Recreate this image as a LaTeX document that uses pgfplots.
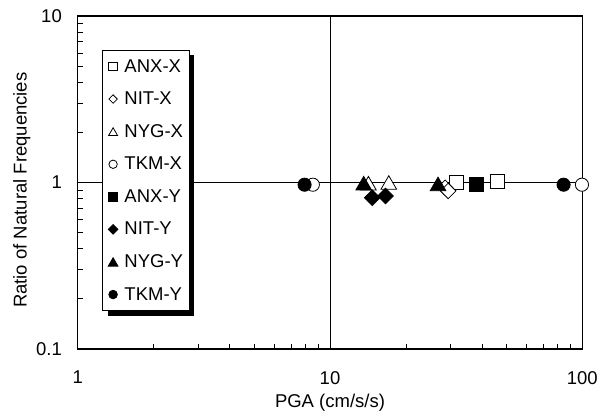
\documentclass[border=0pt]{standalone}
\usepackage{pgfplots}
\pgfplotsset{compat=1.18}
\usepackage{fontspec}
\setmainfont{Liberation Sans}
\usetikzlibrary{shadows}
\newcommand{\chf}{\fontsize{18.5bp}{22bp}\selectfont}
\begin{document}
\begin{tikzpicture}
\path[use as bounding box] (-77.7bp,-66bp) rectangle (530.3bp,349bp);
\begin{axis}[
  scale only axis, width=504.6bp, height=333bp,
  xmode=log, ymode=log,
  xmin=1, xmax=100, ymin=0.1, ymax=10,
  xtick={1,10,100}, xticklabels={1,10,100},
  ytick={0.1,1,10}, yticklabels={0.1,1,10},
  minor xtick={2,3,4,5,6,7,8,9,20,30,40,50,60,70,80,90},
  minor ytick={0.2,0.3,0.4,0.5,0.6,0.7,0.8,0.9,2,3,4,5,6,7,8,9},
  tick pos=left, tick align=inside,
  major tick length=7bp, minor tick length=5bp,
  every tick/.style={black, line width=0.8bp},
  grid=major, major grid style={black, line width=0.8bp},
  axis line style={line width=1.4bp},
  xticklabel style={font=\chf, inner sep=0pt, anchor=north, yshift=-22bp},
  yticklabel style={font=\chf, inner sep=0pt, anchor=east, xshift=-15.7bp},
  xlabel={PGA (cm/s/s)},
  ylabel={Ratio of Natural Frequencies},
  every axis x label/.style={at={([yshift=-44.5bp]rel axis cs:0.5,0)}, anchor=north, inner sep=0pt, font=\chf},
  every axis y label/.style={at={([xshift=-64.7bp]rel axis cs:0,0.477)}, rotate=90, anchor=north, inner sep=0pt, font=\chf},
  legend cell align=left,
  legend image code/.code={\path (0bp,0bp) (10bp,0bp); \draw[#1] plot coordinates {(5bp,0bp)};},
  legend style={at={([xshift=24.6bp,yshift=-34bp]rel axis cs:0,1)}, anchor=north west,
    draw=black, line width=0.8bp, fill=white, font=\chf,
    inner xsep=5bp, inner ysep=8bp, row sep=16.3bp, column sep=5bp,
    nodes={inner sep=1bp},
    drop shadow={shadow xshift=5bp, shadow yshift=-5bp, fill=black, opacity=1}},
]
% ANX-X
\addplot[only marks, mark=square*, mark size=7bp, mark options={fill=white, draw=black, line width=0.8bp},
  legend image post style={mark size=4.2bp}]
  coordinates {(31.6,1.0) (46.2,1.02)};
\addlegendentry{ANX-X}
% NIT-X
\addplot[only marks, mark=square*, mark size=5.5bp, mark options={rotate=45, fill=white, draw=black, line width=0.8bp},
  legend image post style={mark size=3.0bp}]
  coordinates {(28.6,0.93) (29.4,0.89)};
\addlegendentry{NIT-X}
% NYG-X
\addplot[only marks, mark=triangle*, mark size=9bp, mark options={yshift=-2.2bp, fill=white, draw=black, line width=0.8bp},
  legend image post style={mark size=5.2bp, mark options={yshift=-1.3bp, fill=white, draw=black, line width=0.8bp}}]
  coordinates {(14.2,0.99) (17.1,1.0)};
\addlegendentry{NYG-X}
% TKM-X
\addplot[only marks, mark=*, mark size=6.6bp, mark options={fill=white, draw=black, line width=0.8bp},
  legend image post style={mark size=4.2bp}]
  coordinates {(8.55,0.97) (99.7,0.97)};
\addlegendentry{TKM-X}
% ANX-Y
\addplot[only marks, mark=square*, mark size=7bp, mark options={fill=black, draw=black, line width=0.8bp},
  legend image post style={mark size=4.5bp}]
  coordinates {(38.0,0.98)};
\addlegendentry{ANX-Y}
% NIT-Y
\addplot[only marks, mark=square*, mark size=5.5bp, mark options={rotate=45, fill=black, draw=black, line width=0.8bp},
  legend image post style={mark size=3.4bp}]
  coordinates {(14.7,0.81) (16.6,0.83)};
\addlegendentry{NIT-Y}
% NYG-Y
\addplot[only marks, mark=triangle*, mark size=9bp, mark options={yshift=-2.2bp, fill=black, draw=black, line width=0.8bp},
  legend image post style={mark size=5.6bp, mark options={yshift=-1.4bp, fill=black, draw=black, line width=0.8bp}}]
  coordinates {(13.6,0.99) (26.8,0.98)};
\addlegendentry{NYG-Y}
% TKM-Y
\addplot[only marks, mark=*, mark size=6.6bp, mark options={fill=black, draw=black, line width=0.8bp},
  legend image post style={mark size=4.3bp}]
  coordinates {(7.93,0.97) (84.3,0.97)};
\addlegendentry{TKM-Y}
\end{axis}
\end{tikzpicture}
\end{document}
